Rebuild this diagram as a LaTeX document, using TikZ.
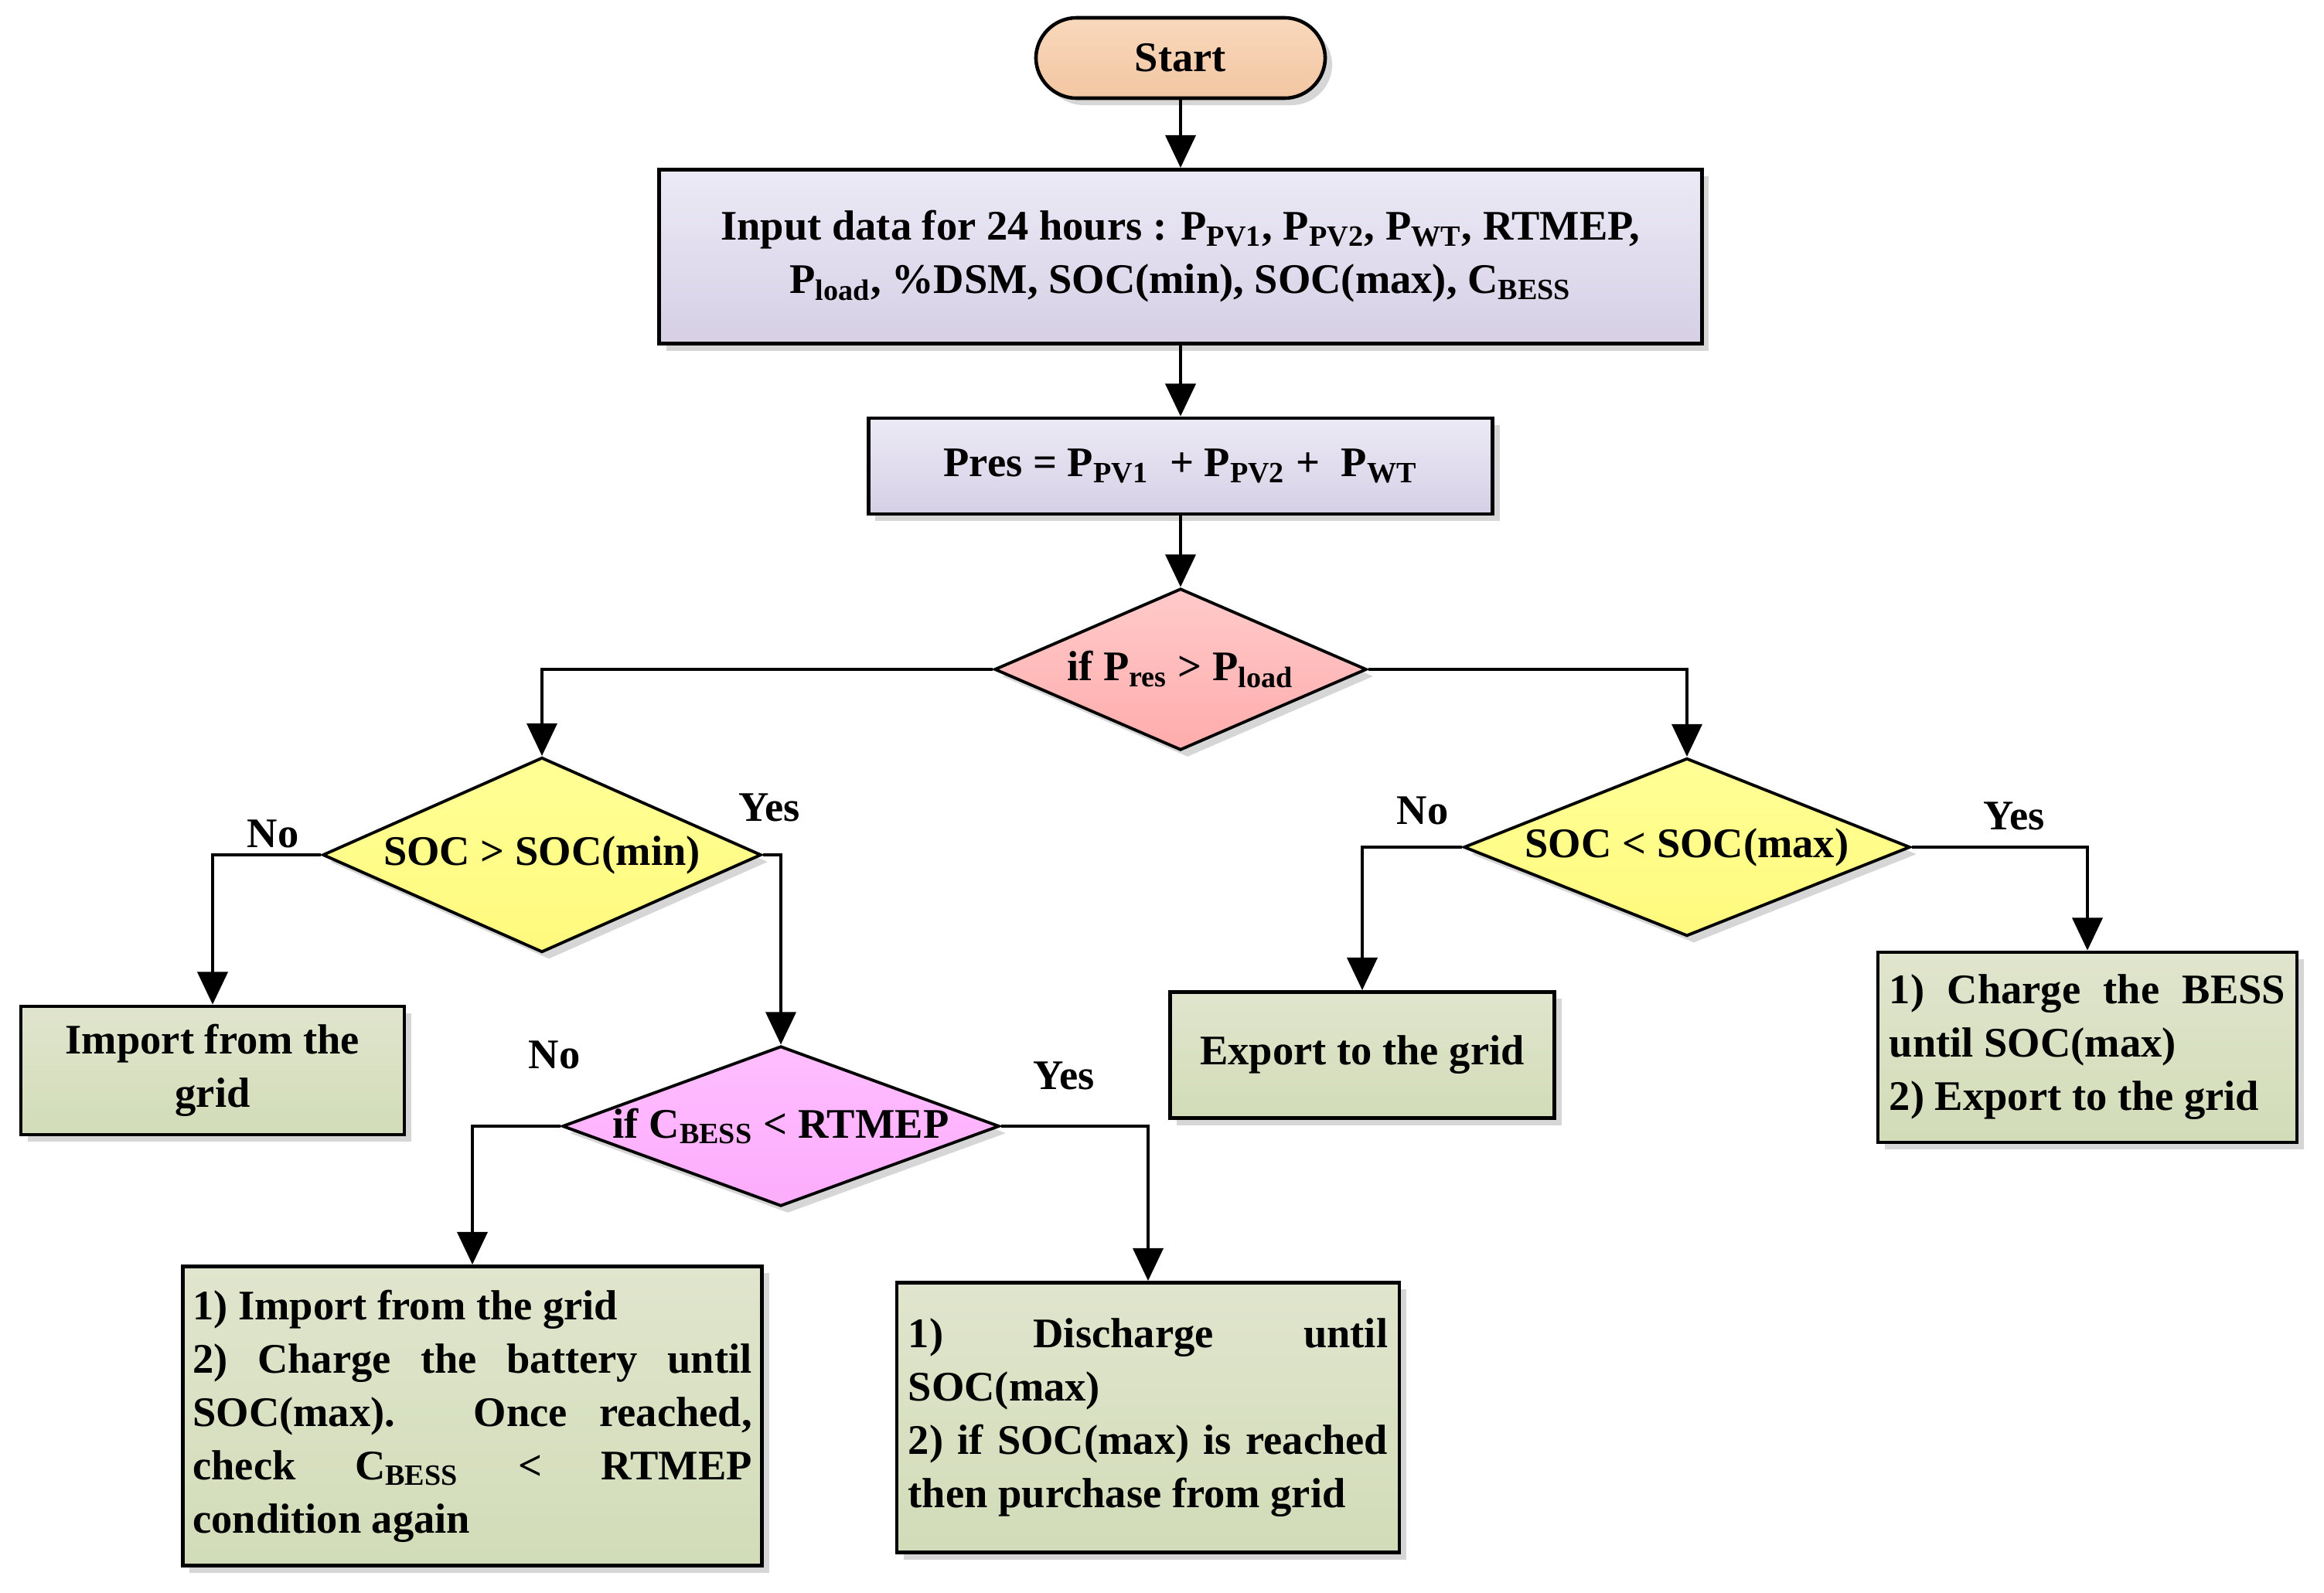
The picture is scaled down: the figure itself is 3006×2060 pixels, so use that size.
\documentclass[tikz,border=0pt]{standalone}
\usepackage{fontspec}
\setmainfont{Liberation Serif}
\usetikzlibrary{shapes.geometric,arrows.meta,shadows}
\definecolor{peachT}{RGB}{249,216,188}
\definecolor{peachB}{RGB}{242,198,162}
\definecolor{lavT}{RGB}{236,234,246}
\definecolor{lavB}{RGB}{214,207,229}
\definecolor{pinkT}{RGB}{255,202,202}
\definecolor{pinkB}{RGB}{255,172,172}
\definecolor{yelT}{RGB}{255,255,150}
\definecolor{yelB}{RGB}{255,250,125}
\definecolor{magT}{RGB}{255,190,255}
\definecolor{magB}{RGB}{252,172,252}
\definecolor{grnT}{RGB}{224,229,205}
\definecolor{grnB}{RGB}{210,220,184}
\newcommand{\sbs}[1]{\textsubscript{#1}}
\begin{document}
\begin{tikzpicture}[x=0.01cm,y=-0.01cm,
  every node/.style={font=\fontsize{15.5}{19.6}\selectfont\bfseries, text=black},
  shad/.style={drop shadow={shadow xshift=0.09cm,shadow yshift=-0.09cm,opacity=0.16,fill=black}},
  box/.style={rectangle, draw=black, line width=1.3pt, inner sep=0pt, shad},
  lav/.style={box, top color=lavT, bottom color=lavB, align=center},
  grn/.style={box, top color=grnT, bottom color=grnB},
  dia/.style={diamond, draw=black, line width=1.1pt, inner sep=0pt, shad},
  arr/.style={line width=1.4pt, -{Triangle[length=12pt,width=11pt]}},
  lbl/.style={inner sep=0pt}
]
\useasboundingbox (0,0) rectangle (3006,2060);

% top chain
\node[rectangle, draw=black, line width=1.3pt, rounded corners=15pt, shad,
      top color=peachT, bottom color=peachB,
      minimum width=3.74cm, minimum height=1.04cm] (start) at (1527,75) {Start};
\node[lav, minimum width=13.48cm, minimum height=2.25cm] (input) at (1527,332)
  {Input data for 24 hours : P\sbs{PV1}, P\sbs{PV2}, P\sbs{WT}, RTMEP,\\
   P\sbs{load}, \%DSM, SOC(min), SOC(max), C\sbs{BESS}};
\node[lav, minimum width=8.07cm, minimum height=1.24cm] (pres) at (1527,603)
  {Pres = P\sbs{PV1}\ \ + P\sbs{PV2} +\ \ P\sbs{WT}};

% decisions
\node[dia, top color=pinkT, bottom color=pinkB, minimum width=4.81cm, minimum height=2.09cm]
  (d1) at (1527,866) {\makebox[0pt]{if P\sbs{res} > P\sbs{load}}};
\node[dia, top color=yelT, bottom color=yelB, minimum width=5.67cm, minimum height=2.52cm]
  (d2) at (701,1106) {\makebox[0pt]{SOC > SOC(min)}};
\node[dia, top color=yelT, bottom color=yelB, minimum width=5.77cm, minimum height=2.30cm]
  (d3) at (2182,1096) {\makebox[0pt]{SOC < SOC(max)}};
\node[dia, top color=magT, bottom color=magB, minimum width=5.65cm, minimum height=2.07cm]
  (d4) at (1010,1457) {\makebox[0pt]{if C\sbs{BESS} < RTMEP}};

% action boxes
\node[grn, align=center, minimum width=4.96cm, minimum height=1.66cm] (imp) at (275,1385)
  {Import from the\\ grid};
\node[grn, align=center, minimum width=4.97cm, minimum height=1.63cm] (exp) at (1762,1365)
  {Export to the grid};
\node[grn, align=justify, inner xsep=0.15cm, text width=5.12cm, minimum height=2.46cm] (chg) at (2700,1355)
  {1) Charge the BESS\linebreak until SOC(max)\\ 2) Export to the grid};
\node[grn, align=justify, inner xsep=0.13cm, text width=7.23cm, minimum height=3.87cm] (lb) at (611,1832)
  {1) Import from the grid\\ 2) Charge the battery until\linebreak SOC(max). Once reached,\linebreak
   check C\sbs{BESS} < RTMEP\linebreak condition again};
\node[grn, align=justify, inner xsep=0.15cm, text width=6.20cm, minimum height=3.49cm] (rb) at (1485,1834)
  {1) Discharge until\linebreak SOC(max)\\ 2) if SOC(max) is reached\linebreak then purchase from grid};

% connectors
\draw[arr] (start) -- (input);
\draw[arr] (input) -- (pres);
\draw[arr] (pres) -- (d1);
\draw[arr] (d1.west) -| (d2.north);
\draw[arr] (d1.east) -| (d3.north);
\draw[arr] (d2.west) -| (imp.north);
\draw[arr] (d2.east) -| (d4.north);
\draw[arr] (d3.west) -| (exp.north);
\draw[arr] (d3.east) -| (chg.north);
\draw[arr] (d4.west) -| (lb.north);
\draw[arr] (d4.east) -| (rb.north);

% labels
\node[lbl] (n1) at (353,1079) {No};
\node[lbl] (y1) at (995,1045) {Yes};
\node[lbl] (n2) at (717,1365) {No};
\node[lbl] (y2) at (1376,1392) {Yes};
\node[lbl] (n3) at (1840,1049) {No};
\node[lbl] (y3) at (2605,1056) {Yes};
\end{tikzpicture}
\end{document}
